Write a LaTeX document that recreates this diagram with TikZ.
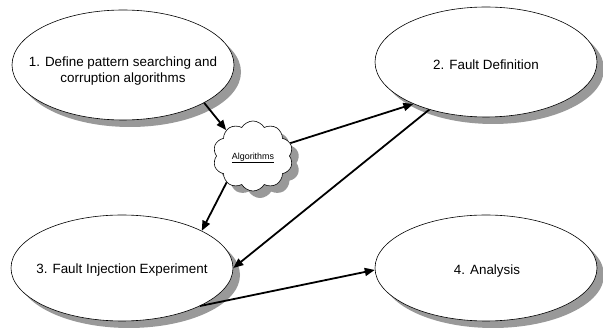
\documentclass[tikz,border=0pt]{standalone}
\usepackage{fontspec}
\setmainfont{Liberation Sans}
\usetikzlibrary{shapes.geometric,shapes.symbols,shadows,arrows.meta}
\begin{document}
\begin{tikzpicture}[x=1pt,y=-1pt,
  shade/.style={drop shadow={shadow xshift=7pt, shadow yshift=-7pt, fill=black!40, opacity=1}},
  stage/.style={ellipse, draw, line width=0.6pt, fill=white, minimum width=222pt,
    minimum height=110pt, inner sep=0pt, shade},
  stagetext/.style={inner sep=0pt, align=center, font=\fontsize{13.4}{15.5}\selectfont},
  cloudnode/.style={cloud, cloud puffs=10, cloud puff arc=120, cloud ignores aspect, draw,
    line width=0.6pt, fill=white, minimum width=80pt, minimum height=70pt,
    inner sep=0pt, shade},
  cloudtext/.style={inner sep=0pt, font=\fontsize{8.9}{10}\selectfont},
  conn/.style={line width=1.8pt, -{Triangle[length=10pt,width=8pt]}}
]
\useasboundingbox (0,0) rectangle (603,336);
\node[stage] (e1) at (123,65) {};
\node[stage] (e2) at (486,62) {};
\node[stage, minimum height=106pt] (e3) at (122,268) {};
\node[stage, minimum height=106pt] (e4) at (486,268) {};
\node[stagetext] (t1) at (123,71) {1. Define pattern searching and\\corruption algorithms};
\node[stagetext] (t2) at (486,65) {2. Fault Definition};
\node[stagetext] (t3) at (122,270) {3. Fault Injection Experiment};
\node[stagetext] (t4) at (487,271) {4. Analysis};
\node[cloudnode] (alg) at (253,156) {};
\node[cloudtext] (algt) at (253,158) {\underline{Algorithms}};
\draw[conn] (e1.-25) -- (alg.136);
\draw[conn] (alg.19) -- (e2.210);
\draw[conn] (alg.225) -- (e3.25);
\draw[conn] (e2.220) -- (e3.0);
\draw[conn] (e3.-26) -- (e4.181);
\end{tikzpicture}
\end{document}
